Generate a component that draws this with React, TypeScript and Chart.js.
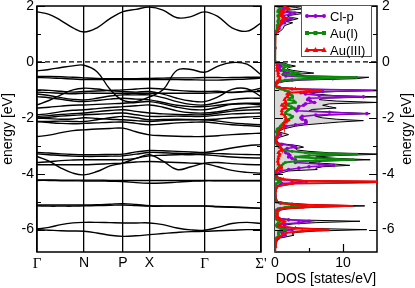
import React, { useEffect, useRef } from 'react';
import { Chart, registerables } from 'chart.js';

Chart.register(...registerables);

const SANS = '"Liberation Sans", Arial, sans-serif';
const SERIF = '"Liberation Serif", "Times New Roman", serif';

// ---------------- band structure ----------------
const kPath = [0, 0.12, 0.24, 0.36, 0.47, 0.6, 0.73, 0.86, 0.99, 1.125, 1.26, 1.4, 1.54, 1.675, 1.81, 1.95, 2.1, 2.24];
const kLabelPos = [0, 0.47, 0.86, 1.125, 1.675, 2.24];
const kLabels = ['Γ', 'N', 'P', 'X', 'Γ', "Σ'"];
const energyTicks = [2, 1, 0, -1, -2, -3, -4, -5, -6];

const bandC1 = [1.79, 1.7, 1.48, 1.22, 1.07, 1.22, 1.55, 1.8, 1.88, 1.96, 1.85, 1.58, 1.62, 1.79, 1.62, 1.22, 1.1, 1.39];
const bandV1 = [-0.32, -0.27, -0.2, -0.14, -0.12, -0.35, -0.98, -1.38, -1.42, -1.25, -1.0, -0.3, -0.27, -0.37, -0.15, -0.02, -0.08, -0.46];
const bandV2 = [-0.52, -0.52, -0.53, -0.55, -0.57, -0.59, -0.6, -0.6, -0.6, -0.59, -0.58, -0.57, -0.57, -0.56, -0.56, -0.56, -0.55, -0.55];
const bandV3 = [-0.56, -0.57, -0.59, -0.61, -0.63, -0.63, -0.63, -0.63, -0.63, -0.63, -0.63, -0.63, -0.64, -0.65, -0.65, -0.63, -0.61, -0.58];
const bandB1 = [-1.54, -1.38, -1.18, -1.0, -0.94, -0.97, -1.03, -1.06, -1.08, -1.06, -1.15, -1.3, -1.4, -1.42, -1.25, -0.98, -0.96, -1.24];
const bandB2 = [-1.0, -1.02, -1.05, -1.08, -1.06, -1.04, -1.02, -1.0, -0.97, -0.94, -0.97, -1.02, -1.05, -1.06, -1.05, -1.1, -1.05, -0.94];
const bandB3 = [-1.08, -1.1, -1.12, -1.14, -1.12, -1.12, -1.12, -1.12, -1.12, -1.12, -1.12, -1.12, -1.12, -1.12, -1.1, -1.08, -1.06, -1.06];
const bandB4 = [-1.15, -1.2, -1.28, -1.34, -1.36, -1.3, -1.22, -1.18, -1.18, -1.18, -1.28, -1.42, -1.52, -1.54, -1.45, -1.35, -1.3, -1.3];
const bandB5 = [-1.24, -1.28, -1.34, -1.4, -1.42, -1.38, -1.33, -1.3, -1.33, -1.36, -1.45, -1.55, -1.6, -1.6, -1.55, -1.5, -1.48, -1.48];
const bandB6 = [-1.65, -1.62, -1.58, -1.55, -1.54, -1.52, -1.5, -1.48, -1.45, -1.42, -1.5, -1.62, -1.7, -1.71, -1.62, -1.52, -1.5, -1.54];
const bandB7 = [-1.89, -1.85, -1.78, -1.73, -1.71, -1.67, -1.63, -1.6, -1.57, -1.54, -1.62, -1.75, -1.82, -1.83, -1.78, -1.7, -1.63, -1.6];
const bandB8 = [-1.95, -1.92, -1.88, -1.85, -1.83, -1.78, -1.74, -1.71, -1.77, -1.83, -1.86, -1.88, -1.89, -1.89, -1.83, -1.76, -1.72, -1.71];
const bandB9 = [-2.01, -1.98, -1.94, -1.91, -1.89, -1.87, -1.85, -1.83, -1.89, -1.95, -1.95, -1.94, -1.95, -1.95, -1.9, -1.86, -1.84, -1.83];
const bandB10 = [-2.13, -2.13, -2.12, -2.13, -2.13, -2.07, -2.0, -1.95, -2.0, -2.07, -2.06, -2.05, -2.06, -2.07, -2.04, -2.0, -1.97, -1.95];
const bandB11 = [-2.01, -2.03, -2.05, -2.04, -2.0, -2.02, -2.05, -2.07, -2.1, -2.13, -2.1, -2.08, -2.07, -2.07, -2.12, -2.18, -2.22, -2.25];
const bandB12 = [-2.13, -2.17, -2.2, -2.21, -2.2, -2.18, -2.16, -2.15, -2.2, -2.25, -2.22, -2.18, -2.16, -2.15, -2.2, -2.25, -2.28, -2.31];
const bandB13 = [-2.67, -2.62, -2.53, -2.46, -2.43, -2.4, -2.38, -2.37, -2.5, -2.61, -2.64, -2.66, -2.67, -2.67, -2.64, -2.6, -2.57, -2.55];
const bandD1 = [-3.24, -3.26, -3.29, -3.31, -3.32, -3.32, -3.31, -3.3, -3.22, -3.17, -3.18, -3.2, -3.22, -3.24, -3.17, -3.08, -3.0, -2.96];
const bandD2 = [-3.29, -3.32, -3.35, -3.37, -3.38, -3.38, -3.37, -3.36, -3.3, -3.24, -3.25, -3.27, -3.27, -3.26, -3.28, -3.3, -3.31, -3.32];
const bandD3 = [-3.38, -3.55, -3.8, -3.98, -4.04, -3.92, -3.72, -3.62, -3.45, -3.36, -3.34, -3.32, -3.32, -3.32, -3.36, -3.4, -3.43, -3.44];
const bandD4 = [-3.6, -3.57, -3.53, -3.51, -3.5, -3.5, -3.5, -3.5, -3.45, -3.32, -3.55, -3.85, -3.75, -3.62, -3.6, -3.64, -3.67, -3.68];
const bandD5 = [-3.68, -3.68, -3.68, -3.68, -3.68, -3.66, -3.64, -3.62, -3.58, -3.56, -3.58, -3.6, -3.62, -3.64, -3.75, -3.88, -3.95, -3.98];
const bandE1 = [-4.22, -4.22, -4.23, -4.23, -4.23, -4.23, -4.24, -4.24, -4.24, -4.24, -4.24, -4.24, -4.24, -4.24, -4.24, -4.24, -4.24, -4.24];
const bandE2 = [-4.24, -4.24, -4.25, -4.25, -4.26, -4.26, -4.27, -4.28, -4.32, -4.34, -4.33, -4.3, -4.27, -4.25, -4.25, -4.25, -4.25, -4.25];
const bandG1 = [-5.12, -5.12, -5.12, -5.12, -5.12, -5.11, -5.09, -5.07, -5.1, -5.14, -5.15, -5.15, -5.15, -5.15, -5.17, -5.19, -5.21, -5.23];
const bandG2 = [-5.15, -5.16, -5.16, -5.16, -5.15, -5.14, -5.13, -5.12, -5.14, -5.16, -5.16, -5.16, -5.16, -5.16, -5.18, -5.2, -5.22, -5.24];
const bandF1 = [-5.98, -5.92, -5.82, -5.76, -5.74, -5.74, -5.75, -5.76, -5.76, -5.76, -5.82, -5.94, -6.01, -6.02, -5.92, -5.78, -5.74, -5.78];
const bandF2 = [-6.0, -6.02, -6.04, -6.05, -6.06, -6.12, -6.2, -6.24, -6.22, -6.18, -6.14, -6.1, -6.07, -6.06, -6.04, -6.02, -6.0, -6.0];

const allBands = [
  bandC1, bandV1, bandV2, bandV3, bandB1, bandB2, bandB3, bandB4, bandB5, bandB6, bandB7,
  bandB8, bandB9, bandB10, bandB11, bandB12, bandB13, bandD1, bandD2, bandD3, bandD4, bandD5,
  bandE1, bandE2, bandG1, bandG2, bandF1, bandF2,
];

// ---------------- density of states ----------------
const dosE = [
  2.0, 1.95, 1.9, 1.85, 1.8, 1.75, 1.7, 1.65, 1.6, 1.55,
  1.5, 1.45, 1.4, 1.3, 1.2, 1.1, 1.0, 0.5, 0.0, -0.05,
  -0.1, -0.15, -0.2, -0.25, -0.3, -0.35, -0.4, -0.45, -0.5, -0.55,
  -0.6, -0.65, -0.7, -0.75, -0.85, -0.92, -0.97, -1.02, -1.06, -1.1,
  -1.15, -1.2, -1.25, -1.3, -1.35, -1.4, -1.45, -1.5, -1.55, -1.6,
  -1.65, -1.7, -1.75, -1.8, -1.85, -1.9, -1.95, -2.0, -2.05, -2.1,
  -2.15, -2.2, -2.25, -2.3, -2.4, -2.5, -2.6, -2.7, -2.8, -2.9,
  -2.95, -3.0, -3.05, -3.1, -3.15, -3.2, -3.25, -3.3, -3.35, -3.4,
  -3.45, -3.5, -3.55, -3.6, -3.65, -3.7, -3.75, -3.8, -3.85, -3.9,
  -4.0, -4.1, -4.2, -4.25, -4.28, -4.31, -4.35, -4.45, -4.6, -4.8,
  -5.0, -5.05, -5.1, -5.15, -5.2, -5.25, -5.3, -5.4, -5.5, -5.6,
  -5.65, -5.7, -5.75, -5.8, -5.85, -5.9, -5.95, -6.0, -6.05, -6.1,
  -6.15, -6.2, -6.3, -6.4, -6.6, -6.8,
];
const dosTotal = [
  1.5, 3.0, 4.2, 2.0, 1.6, 4.6, 3.2, 1.8, 2.2, 3.4,
  2.6, 1.6, 2.6, 1.4, 1.2, 0.8, 0.1, 0, 0.1, 1.5,
  2.0, 3.0, 2.0, 1.8, 2.5, 4.0, 5.7, 3.0, 4.5, 13.8,
  12.0, 4.0, 1.5, 0.5, 0.1, 1.0, 4.0, 16, 9.0, 5.0,
  6.0, 8.5, 15.5, 7.0, 6.5, 9.0, 15.0, 8.0, 7.0, 8.0,
  9.0, 5.5, 5.0, 9.0, 14.0, 8.0, 6.0, 7.0, 9.0, 13.0,
  9.5, 7.0, 4.5, 3.0, 1.2, 0.5, 2.0, 0.6, 0.2, 0.5,
  1.8, 3.5, 4.2, 3.0, 3.2, 5.0, 8.0, 16, 9.0, 6.0,
  9.0, 14.0, 7.0, 5.0, 8.5, 11.0, 7.0, 6.0, 6.2, 2.0,
  0.5, 0.2, 1.5, 5.0, 17, 14, 3.0, 0.5, 0.1, 0.1,
  0.4, 2.0, 5.0, 13.2, 6.0, 2.0, 0.8, 0.4, 0.4, 0.8,
  2.5, 12.5, 6.0, 2.5, 1.2, 1.5, 4.0, 13.5, 6.0, 3.0,
  2.5, 2.8, 0.8, 0.3, 0.1, 0,
];
const dosClP = [
  0.6, 1.2, 1.8, 1.0, 0.8, 2.9, 2.2, 1.0, 1.3, 2.4,
  1.8, 1.0, 1.4, 0.7, 0.6, 0.3, 0, 0, 0, 0.4,
  0.6, 0.9, 0.6, 0.6, 0.8, 1.4, 2.0, 1.2, 1.6, 5.0,
  8.5, 2.5, 0.8, 0.3, 0, 0.6, 2.5, 15.5, 7.0, 3.8,
  4.5, 6.5, 13.0, 5.0, 4.8, 5.2, 5.8, 4.5, 4.2, 3.5,
  3.4, 3.0, 3.2, 8.0, 13.5, 6.0, 4.0, 3.8, 4.0, 4.5,
  4.6, 4.5, 3.0, 1.6, 0.6, 0.3, 0.8, 0.3, 0.1, 0.3,
  1.0, 2.5, 3.0, 1.8, 1.5, 1.5, 1.6, 2.0, 2.2, 2.0,
  2.5, 3.0, 3.0, 3.0, 6.5, 8.6, 5.0, 3.5, 2.0, 0.8,
  0.3, 0.1, 0.8, 2.5, 4.6, 3.5, 1.0, 0.2, 0, 0,
  0.2, 0.8, 2.5, 4.5, 2.0, 0.8, 0.3, 0.2, 0.2, 0.6,
  2.0, 5.0, 3.5, 1.5, 0.6, 0.5, 1.0, 2.5, 1.5, 1.0,
  1.2, 1.5, 0.4, 0.1, 0, 0,
];
const dosAuI = [
  0.4, 0.6, 0.8, 0.5, 0.4, 0.8, 0.6, 0.4, 0.5, 0.6,
  0.5, 0.4, 0.5, 0.3, 0.3, 0.2, 0, 0, 0.05, 1.0,
  1.3, 2.0, 1.3, 1.2, 1.6, 2.5, 3.4, 2.0, 3.5, 12.0,
  5.0, 1.5, 0.6, 0.2, 0, 0.3, 0.8, 1.5, 2.0, 2.2,
  2.0, 2.5, 2.6, 2.2, 2.0, 2.8, 3.0, 2.0, 1.6, 2.4,
  2.8, 2.0, 1.8, 1.6, 1.5, 2.2, 2.6, 2.4, 2.0, 1.6,
  1.4, 1.2, 1.0, 0.8, 0.3, 0.2, 0.3, 0.1, 0.05, 0.1,
  0.3, 0.5, 0.6, 0.9, 1.2, 2.5, 4.5, 12.0, 5.0, 3.0,
  6.0, 11.5, 3.0, 1.5, 1.2, 1.0, 0.6, 0.5, 0.4, 0.2,
  0.1, 0.05, 0.2, 0.5, 0.8, 0.6, 0.2, 0.05, 0, 0,
  0.2, 1.0, 3.0, 4.2, 1.5, 0.5, 0.2, 0.1, 0.1, 0.1,
  0.3, 0.8, 0.5, 0.3, 0.2, 0.3, 0.8, 1.5, 0.8, 0.5,
  0.5, 0.6, 0.2, 0.1, 0, 0,
];
const dosAuIII = [
  1.0, 1.6, 2.0, 1.2, 0.9, 1.3, 1.0, 0.7, 1.2, 1.6,
  1.1, 0.8, 1.0, 0.6, 0.5, 0.4, 0.05, 0, 0, 0.2,
  0.3, 0.4, 0.3, 0.3, 0.3, 0.4, 0.5, 0.4, 0.5, 0.8,
  0.7, 0.5, 0.3, 0.2, 0.05, 0.8, 3.0, 6.8, 5.0, 2.2,
  1.8, 2.0, 1.8, 1.5, 1.4, 1.5, 1.6, 1.2, 1.0, 1.3,
  1.6, 1.0, 1.0, 1.0, 1.0, 1.3, 1.5, 1.5, 1.6, 2.0,
  1.6, 1.2, 1.3, 1.3, 0.8, 0.4, 0.5, 0.2, 0.1, 0.2,
  0.5, 0.8, 0.8, 0.9, 1.0, 0.6, 0.5, 0.8, 0.6, 0.5,
  0.5, 0.5, 0.4, 0.4, 0.5, 0.6, 0.9, 1.0, 0.4, 0.3,
  0.1, 0.05, 1.2, 4.0, 16.5, 13.5, 2.5, 0.4, 0.05, 0.05,
  0.1, 0.6, 2.5, 11.5, 4.0, 1.2, 0.4, 0.3, 0.3, 0.4,
  0.8, 1.5, 1.2, 0.8, 0.6, 1.0, 3.0, 8.0, 4.0, 2.0,
  1.2, 1.0, 0.4, 0.2, 0.05, 0,
];
const dosTicks = [0, 5, 10, 15];
const dosTickLabels = ['0', '', '10', ''];
const legendLabels = ['Cl-p', 'Au(I)', 'Au(III)'];

const PURPLE = '#9400d3';
const GREEN = '#0a8a0a';
const RED = '#ff0000';
const FILL = '#d8d8d8';

const isEven = (v: number) => Math.abs(v - Math.round(v)) < 1e-6 && Math.round(v) % 2 === 0;

function drawFrame(chart: any) {
  const { ctx, chartArea: a } = chart;
  ctx.save();
  ctx.strokeStyle = '#000';
  ctx.lineWidth = 1.5;
  ctx.setLineDash([]);
  ctx.strokeRect(a.left, a.top, a.right - a.left, a.bottom - a.top);
  ctx.restore();
}

function drawZero(chart: any) {
  const { ctx, chartArea: a, scales } = chart;
  const y0 = scales.y.getPixelForValue(0);
  ctx.save();
  ctx.strokeStyle = '#000';
  ctx.lineWidth = 1.3;
  ctx.setLineDash([5, 3]);
  ctx.beginPath();
  ctx.moveTo(a.left, y0);
  ctx.lineTo(a.right, y0);
  ctx.stroke();
  ctx.restore();
}

function drawYTicks(chart: any) {
  const { ctx, chartArea: a, scales } = chart;
  ctx.save();
  ctx.strokeStyle = '#000';
  ctx.lineWidth = 1.2;
  energyTicks.forEach((e) => {
    const y = Math.round(scales.y.getPixelForValue(e)) + 0.5;
    const len = isEven(e) ? 8 : 4;
    ctx.beginPath();
    ctx.moveTo(a.left, y);
    ctx.lineTo(a.left + len, y);
    ctx.moveTo(a.right, y);
    ctx.lineTo(a.right - len, y);
    ctx.stroke();
  });
  ctx.restore();
}

function marker(ctx: CanvasRenderingContext2D, style: string, x: number, y: number, r: number) {
  ctx.beginPath();
  if (style === 'circle') {
    ctx.arc(x, y, r, 0, Math.PI * 2);
  } else if (style === 'rect') {
    ctx.rect(x - r, y - r, 2 * r, 2 * r);
  } else {
    ctx.moveTo(x, y - r * 1.2);
    ctx.lineTo(x + r * 1.1, y + r * 0.8);
    ctx.lineTo(x - r * 1.1, y + r * 0.8);
    ctx.closePath();
  }
  ctx.fill();
}

const bandDecor = {
  id: 'bandDecor',
  beforeDatasetsDraw(chart: any) {
    drawZero(chart);
  },
  afterDatasetsDraw(chart: any) {
    drawFrame(chart);
    drawYTicks(chart);
  },
};

const dosDecor = {
  id: 'dosDecor',
  beforeDatasetsDraw(chart: any) {
    drawZero(chart);
    drawFrame(chart);
  },
  afterDatasetsDraw(chart: any) {
    const { ctx, chartArea: a, scales } = chart;
    drawYTicks(chart);
    ctx.save();
    ctx.strokeStyle = '#000';
    ctx.lineWidth = 1.2;
    dosTicks.forEach((v) => {
      if (v <= 0 || v >= 15) return;
      const x = Math.round(scales.x.getPixelForValue(v)) + 0.5;
      const len = v % 10 === 0 ? 8 : 4;
      ctx.beginPath();
      ctx.moveTo(x, a.bottom);
      ctx.lineTo(x, a.bottom - len);
      ctx.moveTo(x, a.top);
      ctx.lineTo(x, a.top + len);
      ctx.stroke();
    });
    ctx.restore();
  },
  afterDraw(chart: any) {
    const { ctx, chartArea: a } = chart;
    // legend box
    const bx = a.right - 76;
    const by = a.top - 1;
    const bw = 70;
    const bh = 51;
    ctx.save();
    ctx.fillStyle = '#fff';
    ctx.fillRect(bx, by, bw, bh);
    ctx.strokeStyle = '#555';
    ctx.lineWidth = 1;
    ctx.strokeRect(bx + 0.5, by + 0.5, bw, bh);
    const colors = [PURPLE, GREEN, RED];
    const styles = ['circle', 'rect', 'triangle'];
    const radii = [2, 2, 2.5];
    legendLabels.forEach((lab, i) => {
      const y = by + 11 + i * 17;
      ctx.strokeStyle = colors[i];
      ctx.fillStyle = colors[i];
      ctx.lineWidth = 2;
      ctx.beginPath();
      ctx.moveTo(bx + 6, y);
      ctx.lineTo(bx + 23, y);
      ctx.stroke();
      marker(ctx, styles[i], bx + 6, y, radii[i]);
      marker(ctx, styles[i], bx + 14.5, y, radii[i]);
      marker(ctx, styles[i], bx + 23, y, radii[i]);
      ctx.fillStyle = '#000';
      ctx.font = `13px ${SANS}`;
      ctx.textAlign = 'left';
      ctx.textBaseline = 'middle';
      ctx.fillText(lab, bx + 29, y + 1);
    });
    // right axis title (reads bottom to top)
    ctx.translate(407, (a.top + a.bottom) / 2);
    ctx.rotate(-Math.PI / 2);
    ctx.fillStyle = '#000';
    ctx.font = `14px ${SANS}`;
    ctx.textAlign = 'center';
    ctx.textBaseline = 'middle';
    ctx.fillText('energy [eV]', 0, 0);
    ctx.restore();
  },
};

function bandConfig(): any {
  return {
    type: 'line',
    data: {
      datasets: allBands.map((b) => ({
        data: b.map((e, i) => ({ x: kPath[i], y: e })),
        borderColor: '#000',
        borderWidth: 1.4,
        pointRadius: 0,
        tension: 0.4,
        fill: false,
      })),
    },
    options: {
      animation: false,
      responsive: false,
      events: [],
      layout: { padding: { left: 0, top: 6, right: 154, bottom: 0 } },
      plugins: { legend: { display: false }, tooltip: { enabled: false } },
      scales: {
        x: {
          type: 'linear',
          min: 0,
          max: 2.24,
          grid: { display: true, drawTicks: false, color: '#000', lineWidth: 1.3 },
          border: { display: false },
          afterBuildTicks: (s: any) => {
            s.ticks = kLabelPos.map((v) => ({ value: v }));
          },
          ticks: {
            autoSkip: false,
            maxRotation: 0,
            padding: 3,
            color: '#000',
            font: (c: any) => {
              const lab = kLabels[c.index] || '';
              return lab === 'Γ' || lab === "Σ'" ? { family: SERIF, size: 15 } : { family: SANS, size: 14 };
            },
            callback: (_v: any, i: number) => kLabels[i],
          },
          afterFit: (s: any) => {
            s.height = 36;
            s.paddingLeft = 0;
            s.paddingRight = 0;
          },
        },
        y: {
          type: 'linear',
          min: -6.8,
          max: 2,
          grid: { display: false, drawTicks: false },
          border: { display: false },
          ticks: {
            stepSize: 1,
            padding: 3,
            color: '#000',
            autoSkip: false,
            font: { family: SANS, size: 14 },
            callback: (v: number) => (isEven(v) ? String(Math.round(v)) : ''),
          },
          title: { display: true, text: 'energy [eV]', color: '#000', font: { family: SANS, size: 14 }, padding: 0 },
          afterFit: (s: any) => {
            s.width = 37;
            s.paddingTop = 0;
            s.paddingBottom = 0;
          },
        },
      },
    },
    plugins: [bandDecor],
  };
}

function series(vals: number[]) {
  return vals.map((v, i) => ({ x: v, y: dosE[i] }));
}

function dosConfig(): any {
  return {
    type: 'line',
    data: {
      datasets: [
        {
          label: 'Au(III)',
          data: series(dosAuIII),
          borderColor: RED,
          backgroundColor: RED,
          borderWidth: 2,
          pointStyle: 'triangle',
          pointRadius: (c: any) => (c.dataIndex % 2 === 0 ? 2.5 : 0),
          pointBorderWidth: 0,
          tension: 0,
          fill: false,
        },
        {
          label: 'Au(I)',
          data: series(dosAuI),
          borderColor: GREEN,
          backgroundColor: GREEN,
          borderWidth: 2,
          pointStyle: 'rect',
          pointRadius: 1.8,
          pointBorderWidth: 0,
          tension: 0,
          fill: false,
        },
        {
          label: 'Cl-p',
          data: series(dosClP),
          borderColor: PURPLE,
          backgroundColor: PURPLE,
          borderWidth: 1.5,
          pointStyle: 'circle',
          pointRadius: 1.8,
          pointBorderWidth: 0,
          tension: 0,
          fill: false,
        },
        {
          label: 'total',
          data: series(dosTotal),
          borderColor: '#000',
          backgroundColor: FILL,
          borderWidth: 1,
          pointRadius: 0,
          tension: 0,
          fill: 'origin',
        },
      ],
    },
    options: {
      indexAxis: 'y',
      animation: false,
      responsive: false,
      events: [],
      layout: { padding: { left: 275, top: 6, right: 0, bottom: 0 } },
      plugins: { legend: { display: false }, tooltip: { enabled: false } },
      scales: {
        x: {
          type: 'linear',
          min: 0,
          max: 15,
          grid: { display: false, drawTicks: false },
          border: { display: false },
          afterBuildTicks: (s: any) => {
            s.ticks = dosTicks.map((v) => ({ value: v }));
          },
          ticks: {
            autoSkip: false,
            maxRotation: 0,
            padding: 3,
            color: '#000',
            font: { family: SANS, size: 14 },
            callback: (_v: any, i: number) => dosTickLabels[i],
          },
          title: { display: true, text: 'DOS [states/eV]', color: '#000', font: { family: SANS, size: 14 }, padding: 0 },
          afterFit: (s: any) => {
            s.height = 36;
            s.paddingLeft = 0;
            s.paddingRight = 0;
          },
        },
        y: {
          type: 'linear',
          position: 'right',
          min: -6.8,
          max: 2,
          grid: { display: false, drawTicks: false },
          border: { display: false },
          ticks: {
            stepSize: 1,
            padding: 5,
            color: '#000',
            autoSkip: false,
            font: { family: SANS, size: 14 },
            callback: (v: number) => (isEven(v) ? String(Math.round(v)) : ''),
          },
          afterFit: (s: any) => {
            s.width = 38;
            s.paddingTop = 0;
            s.paddingBottom = 0;
          },
        },
      },
    },
    plugins: [dosDecor],
  };
}

export default function App() {
  const bandRef = useRef<HTMLCanvasElement>(null);
  const dosRef = useRef<HTMLCanvasElement>(null);
  useEffect(() => {
    document.body.style.margin = '0';
    const c1 = new Chart(bandRef.current as HTMLCanvasElement, bandConfig());
    const c2 = new Chart(dosRef.current as HTMLCanvasElement, dosConfig());
    return () => {
      c1.destroy();
      c2.destroy();
    };
  }, []);
  return (
    <div style={{ position: 'relative', width: 415, height: 288, background: '#fff' }}>
      <canvas ref={bandRef} width={415} height={288} style={{ position: 'absolute', left: 0, top: 0 }} />
      <canvas ref={dosRef} width={415} height={288} style={{ position: 'absolute', left: 0, top: 0 }} />
    </div>
  );
}
